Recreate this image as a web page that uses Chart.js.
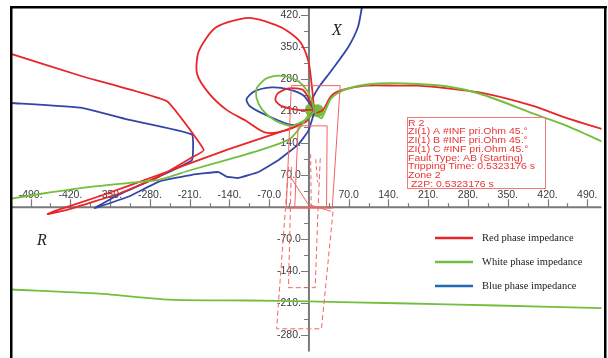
<!DOCTYPE html>
<html>
<head>
<meta charset="utf-8">
<script src="https://cdn.jsdelivr.net/npm/chart.js@4.4.1/dist/chart.umd.min.js"></script>
<style>
  html, body { margin: 0; padding: 0; background: #fff; }
  canvas { display: block; }
</style>
</head>
<body>
<canvas id="rxChart" width="608" height="358"></canvas>
<script>
// =========================
// DATA (R, X in ohm)
// =========================
const xTicks = [-490, -420, -350, -280, -210, -140, -70, 70, 140, 210, 280, 350, 420, 490];
const xTickLabels = ["-490.", "-420.", "-350.", "-280.", "-210.", "-140.", "-70.0", "70.0", "140.", "210.", "280.", "350.", "420.", "490."];
const xMinorTicks = [-455, -385, -315, -245, -175, -105, -35, 35, 105, 175, 245, 315, 385, 455];
const yTicks = [420, 350, 280, 210, 140, 70, -70, -140, -210, -280];
const yTickLabels = ["420.", "350.", "280.", "210.", "140.", "70.0", "-70.0", "-140.", "-210.", "-280."];
const yMinorTicks = [385, 315, 245, 175, 105, 35, -35, -105, -175, -245];

const seriesNames = ["Red phase impedance", "White phase impedance", "Blue phase impedance"];

// red phase
const redUpperLoop = [[8,213],[8,228],[4,277],[-1,320],[-15,361],[-36,384],[-59,399],[-106,414],[-164,393],[-194,341],[-197,292],[-176,249],[-145,213],[-111,189],[-76,163],[-36,170],[-6,189],[8,210]];
const redLeftPath = [[-523,335],[-398,286],[-250,232],[-185,125],[-206,109],[-264,67],[-334,30],[-421,-4],[-460,-15],[-447,-8],[-369,24],[-264,71],[-141,127],[-54,163],[-5,187],[8,210]];
const redSmallLoop = [[8,217],[-10,256],[-36,260],[-55,249],[-59,234],[-48,221],[-19,213],[8,213]];
const redRightPath = [[13,206],[25,213],[39,243],[57,256],[99,266],[156,266],[191,266],[244,260],[309,249],[396,221],[454,195],[519,170]];

// white phase
const greenLoop = [[9,213],[4,238],[-10,266],[-27,281],[-54,288],[-76,281],[-92,260],[-92,238],[-82,213],[-59,189],[-31,178],[-1,195],[9,210]];
const greenLeftPath = [[4,210],[-31,152],[-71,131],[-146,103],[-206,82],[-264,60],[-293,56],[-381,45],[-468,30],[-524,19]];
const greenRightPath = [[13,202],[22,195],[39,238],[60,256],[99,268],[156,271],[244,264],[309,245],[401,202],[454,178],[519,142]];
const greenLowerPath = [[-524,-180],[-369,-189],[-246,-202],[-106,-204],[-1,-206],[156,-210],[331,-215],[519,-221]];

// blue phase
const blueUpperPath = [[9,213],[4,228],[16,260],[39,298],[69,350],[86,393],[93,436],[95,453]];
const blueLoop = [[9,213],[-10,245],[-36,258],[-66,262],[-97,253],[-110,236],[-104,221],[-76,202],[-31,180],[-6,189],[9,210]];
const blueLeftPath = [[-524,228],[-398,217],[-316,191],[-206,159],[-206,103],[-264,67],[-334,28],[-377,-2],[-316,24],[-264,56],[-206,71],[-159,77],[-145,67],[-124,64],[-89,77],[-54,103],[-19,137],[-1,167],[9,206]];

// end point of the trajectories
const greenCluster = [[4,213],[15,211]];
const blueCluster = [[9,213],[13,211]];

// relay zones
const zoneUpper = [[-31,266],[55,266],[41,-2],[-40,-2],[-31,266]];
const zoneInner = [[-19,178],[32,178],[31,0],[-25,0],[-19,178]];
const zoneReverseOuter = [[-36,88],[-57,-266],[22,-266],[43,-2]];
const zoneReverseInner = [[-31,88],[-36,-176],[11,-176],[16,-4],[20,110]];
const tripTrace = [[-33,67],[-1,6],[39,-9]];
const tripMarkA = [[4,0],[3,116]];
const tripMarkB = [[12,105],[15,55]];

const infoLines = [
  "R 2",
  "ZI(1) A #INF pri.Ohm 45.°",
  "ZI(1) B #INF pri.Ohm 45.°",
  "ZI(1) C #INF pri.Ohm 45.°",
  "Fault Type: AB (Starting)",
  "Tripping Time: 0.5323176 s",
  "Zone 2",
  " Z2P: 0.5323176 s"
];

// =========================
// CORES
// =========================
const RED = "#e8262a";
const GREEN = "#72bf3e";
const BLUE = "#3445a8";
const LEGEND_BLUE = "#2368b4";
const ZONE = "#f06464";

function toXY(pts) {
  return pts.map(p => ({ x: p[0], y: p[1] }));
}

function curva(pts, cor, extra) {
  return Object.assign({
    data: toXY(pts),
    showLine: true,
    borderColor: cor,
    borderWidth: 1.8,
    pointRadius: 0,
    tension: 0.25,
    fill: false
  }, extra || {});
}

document.addEventListener("DOMContentLoaded", () => {

  // =========================
  // EIXOS NO CENTRO
  // =========================
  const eixos = {
    id: "eixos",
    beforeDatasetsDraw(chart) {
      const { ctx, chartArea, scales: { x, y } } = chart;
      const x0 = x.getPixelForValue(0);
      const y0 = y.getPixelForValue(0);
      ctx.save();
      ctx.strokeStyle = "#7a7a7a";
      ctx.lineWidth = 2;
      ctx.beginPath();
      ctx.moveTo(chartArea.left, y0);
      ctx.lineTo(chartArea.right, y0);
      ctx.moveTo(x0, chartArea.top);
      ctx.lineTo(x0, chartArea.bottom);
      ctx.stroke();

      ctx.lineWidth = 1.2;
      ctx.beginPath();
      xTicks.forEach(v => {
        const px = Math.round(x.getPixelForValue(v)) + 0.5;
        ctx.moveTo(px, y0);
        ctx.lineTo(px, y0 - 8);
      });
      xMinorTicks.forEach(v => {
        const px = Math.round(x.getPixelForValue(v)) + 0.5;
        ctx.moveTo(px, y0);
        ctx.lineTo(px, y0 - 4);
      });
      yTicks.forEach(v => {
        const py = Math.round(y.getPixelForValue(v)) + 0.5;
        ctx.moveTo(x0, py);
        ctx.lineTo(x0 - 8, py);
      });
      yMinorTicks.forEach(v => {
        const py = Math.round(y.getPixelForValue(v)) + 0.5;
        ctx.moveTo(x0, py);
        ctx.lineTo(x0 - 5, py);
      });
      ctx.stroke();

      ctx.fillStyle = "#3a3a3a";
      ctx.font = "10.5px 'Liberation Sans', Arial, sans-serif";
      ctx.textAlign = "center";
      ctx.textBaseline = "alphabetic";
      xTicks.forEach((v, i) => {
        ctx.fillText(xTickLabels[i], x.getPixelForValue(v), y0 - 9);
      });
      ctx.textAlign = "right";
      ctx.textBaseline = "middle";
      yTicks.forEach((v, i) => {
        ctx.fillText(yTickLabels[i], x0 - 8, y.getPixelForValue(v));
      });

      ctx.fillStyle = "#222";
      ctx.font = "italic 16px 'Liberation Serif', 'Times New Roman', serif";
      ctx.textAlign = "center";
      ctx.fillText("X", 337, 31);
      ctx.fillText("R", 42, 241);
      ctx.restore();
    }
  };

  // =========================
  // MOLDURA, LEGENDA, CAIXA
  // =========================
  const extras = {
    id: "extras",
    afterDraw(chart) {
      const { ctx } = chart;
      ctx.save();

      // moldura
      ctx.fillStyle = "#000";
      ctx.fillRect(10, 6, 597, 2.5);
      ctx.fillRect(10, 6, 2.5, 352);
      ctx.fillRect(604, 6, 2.5, 352);

      // caixa de informação
      ctx.strokeStyle = "#f07a7a";
      ctx.lineWidth = 1;
      ctx.strokeRect(407.5, 117.5, 138, 71);
      ctx.fillStyle = "#e83434";
      ctx.font = "9.3px 'Liberation Sans', Arial, sans-serif";
      ctx.textAlign = "left";
      ctx.textBaseline = "top";
      infoLines.forEach((t, i) => {
        ctx.save();
        ctx.translate(408, 118.5 + i * 8.7);
        ctx.scale(1.13, 1);
        ctx.fillText(t, 0, 0);
        ctx.restore();
      });

      // legenda
      const cores = [RED, GREEN, LEGEND_BLUE];
      ctx.font = "10.5px 'Liberation Serif', 'Times New Roman', serif";
      ctx.textBaseline = "middle";
      seriesNames.forEach((nome, i) => {
        const ly = 238 + i * 24;
        ctx.strokeStyle = cores[i];
        ctx.lineWidth = 2.5;
        ctx.beginPath();
        ctx.moveTo(435, ly);
        ctx.lineTo(473, ly);
        ctx.stroke();
        ctx.fillStyle = "#1a1a1a";
        ctx.fillText(nome, 482, ly);
      });
      ctx.restore();
    }
  };

  // =========================
  // GRÁFICO R-X
  // =========================
  const ctx = document.getElementById("rxChart");

  new Chart(ctx, {
    type: "scatter",
    data: {
      datasets: [
        curva(zoneUpper, ZONE, { borderWidth: 1, tension: 0 }),
        curva(zoneInner, ZONE, { borderWidth: 1, tension: 0 }),
        curva(zoneReverseOuter, ZONE, { borderWidth: 1, tension: 0, borderDash: [5, 3] }),
        curva(zoneReverseInner, ZONE, { borderWidth: 1, tension: 0, borderDash: [5, 3] }),
        curva(tripTrace, ZONE, { borderWidth: 1, tension: 0 }),
        curva(tripMarkA, ZONE, { borderWidth: 1, tension: 0, borderDash: [4, 3] }),
        curva(tripMarkB, ZONE, { borderWidth: 1, tension: 0, borderDash: [4, 3] }),
        curva(greenLowerPath, GREEN),
        curva(greenLeftPath, GREEN),
        curva(greenLoop, GREEN),
        curva(greenRightPath, GREEN, { borderWidth: 2 }),
        curva(redUpperLoop, RED),
        curva(redLeftPath, RED, { tension: 0.1 }),
        curva(redSmallLoop, RED),
        curva(redRightPath, RED),
        curva(blueLeftPath, BLUE, { tension: 0.1 }),
        curva(blueLoop, BLUE),
        curva(blueUpperPath, BLUE),
        { data: toXY(greenCluster), showLine: false, pointRadius: 6.5, pointBackgroundColor: GREEN, pointBorderWidth: 0 },
        { data: toXY(blueCluster), showLine: false, pointRadius: 4.5, pointBackgroundColor: BLUE, pointBorderWidth: 0 }
      ]
    },
    options: {
      responsive: false,
      animation: false,
      layout: { padding: { left: 11, right: 3, top: 7, bottom: 0 } },
      scales: {
        x: { type: "linear", min: -524.5, max: 515, display: false },
        y: { type: "linear", min: -315.6, max: 438, display: false }
      },
      plugins: {
        legend: { display: false },
        tooltip: { enabled: false }
      }
    },
    plugins: [eixos, extras]
  });

});
</script>
</body>
</html>
